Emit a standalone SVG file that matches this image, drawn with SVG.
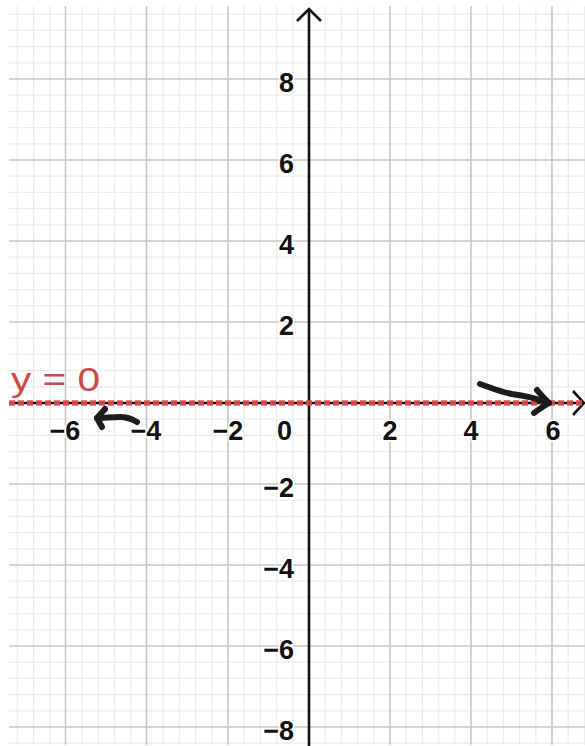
<svg xmlns="http://www.w3.org/2000/svg" width="585" height="746" viewBox="0 0 585 746">
<style>
.minor{stroke:#ececec;stroke-width:1.2;fill:none}
.major{stroke:#c8c8c8;stroke-width:1.6;fill:none}
.axis{stroke:#111;stroke-width:2.6;fill:none}
.tick{font-family:"Liberation Sans",Arial,sans-serif;font-weight:bold;font-size:27px;fill:#111;stroke:#fff;stroke-width:3;paint-order:stroke;stroke-linejoin:round}
.hand{stroke:#1c1c1c;stroke-width:6;fill:none;stroke-linecap:round;stroke-linejoin:round}
</style>
<rect width="585" height="746" fill="#fff"/>
<g id="grid">
<path class="minor" d="M17.4,6V745M33.6,6V745M49.8,6V745M82.2,6V745M98.4,6V745M114.6,6V745M130.8,6V745M163.2,6V745M179.4,6V745M195.6,6V745M211.8,6V745M244.2,6V745M260.4,6V745M276.6,6V745M292.8,6V745M325.2,6V745M341.4,6V745M357.6,6V745M373.8,6V745M406.2,6V745M422.4,6V745M438.6,6V745M454.8,6V745M487.2,6V745M503.4,6V745M519.6,6V745M535.8,6V745M568.2,6V745M584.4,6V745
M9,14.2H585M9,30.4H585M9,46.6H585M9,62.8H585M9,95.2H585M9,111.4H585M9,127.6H585M9,143.8H585M9,176.2H585M9,192.4H585M9,208.6H585M9,224.8H585M9,257.2H585M9,273.4H585M9,289.6H585M9,305.8H585M9,338.2H585M9,354.4H585M9,370.6H585M9,386.8H585M9,419.2H585M9,435.4H585M9,451.6H585M9,467.8H585M9,500.2H585M9,516.4H585M9,532.6H585M9,548.8H585M9,581.2H585M9,597.4H585M9,613.6H585M9,629.8H585M9,662.2H585M9,678.4H585M9,694.6H585M9,710.8H585M9,743.2H585"/>
<path class="major" d="M65.5,6V745M146.5,6V745M228,6V745M390,6V745M471,6V745M552,6V745
M9,79H585M9,160H585M9,241H585M9,322H585M9,484H585M9,565H585M9,646H585M9,727H585"/>
</g>
<g id="axes">
<path class="axis" d="M309,9V746"/>
<path class="axis" d="M297,21L309,9L321,21"/>
<path class="axis" d="M9,403H583"/>
<path class="axis" d="M573,391L584,403L573,415"/>
</g>
<g id="line-y0">
<path d="M9,403H585" stroke="#dc4a46" stroke-opacity="0.92" stroke-width="5.5" stroke-dasharray="6 3" fill="none"/>
<text x="11" y="391" font-family="Liberation Sans,Arial,sans-serif" font-size="33" fill="#cf4744" textLength="89" lengthAdjust="spacingAndGlyphs">y = 0</text>
</g>
<g id="connectors">
<path class="hand" d="M480,384C492,388 500,392 512,394C528,396 538,399 549,403"/>
<path class="hand" d="M537,390C541,395 545,399 549,403M534,413C539,409 544,406 549,403"/>
<path class="hand" d="M137,422C132,419 128,417 120,417C112,417 104,418 97,418"/>
<path class="hand" d="M105,409L97,418L102,427"/>
</g>
<g id="labels" class="tick">
<text x="294" y="92" text-anchor="end">8</text>
<text x="294" y="173" text-anchor="end">6</text>
<text x="294" y="254" text-anchor="end">4</text>
<text x="294" y="335" text-anchor="end">2</text>
<text x="294" y="497" text-anchor="end">−2</text>
<text x="294" y="578" text-anchor="end">−4</text>
<text x="294" y="659" text-anchor="end">−6</text>
<text x="294" y="740" text-anchor="end">−8</text>
<text x="65" y="440" text-anchor="middle">−6</text>
<text x="146" y="440" text-anchor="middle">−4</text>
<text x="228" y="440" text-anchor="middle">−2</text>
<text x="292" y="440" text-anchor="end">0</text>
<text x="390" y="440" text-anchor="middle">2</text>
<text x="471" y="440" text-anchor="middle">4</text>
<text x="553" y="440" text-anchor="middle">6</text>
</g>
</svg>
